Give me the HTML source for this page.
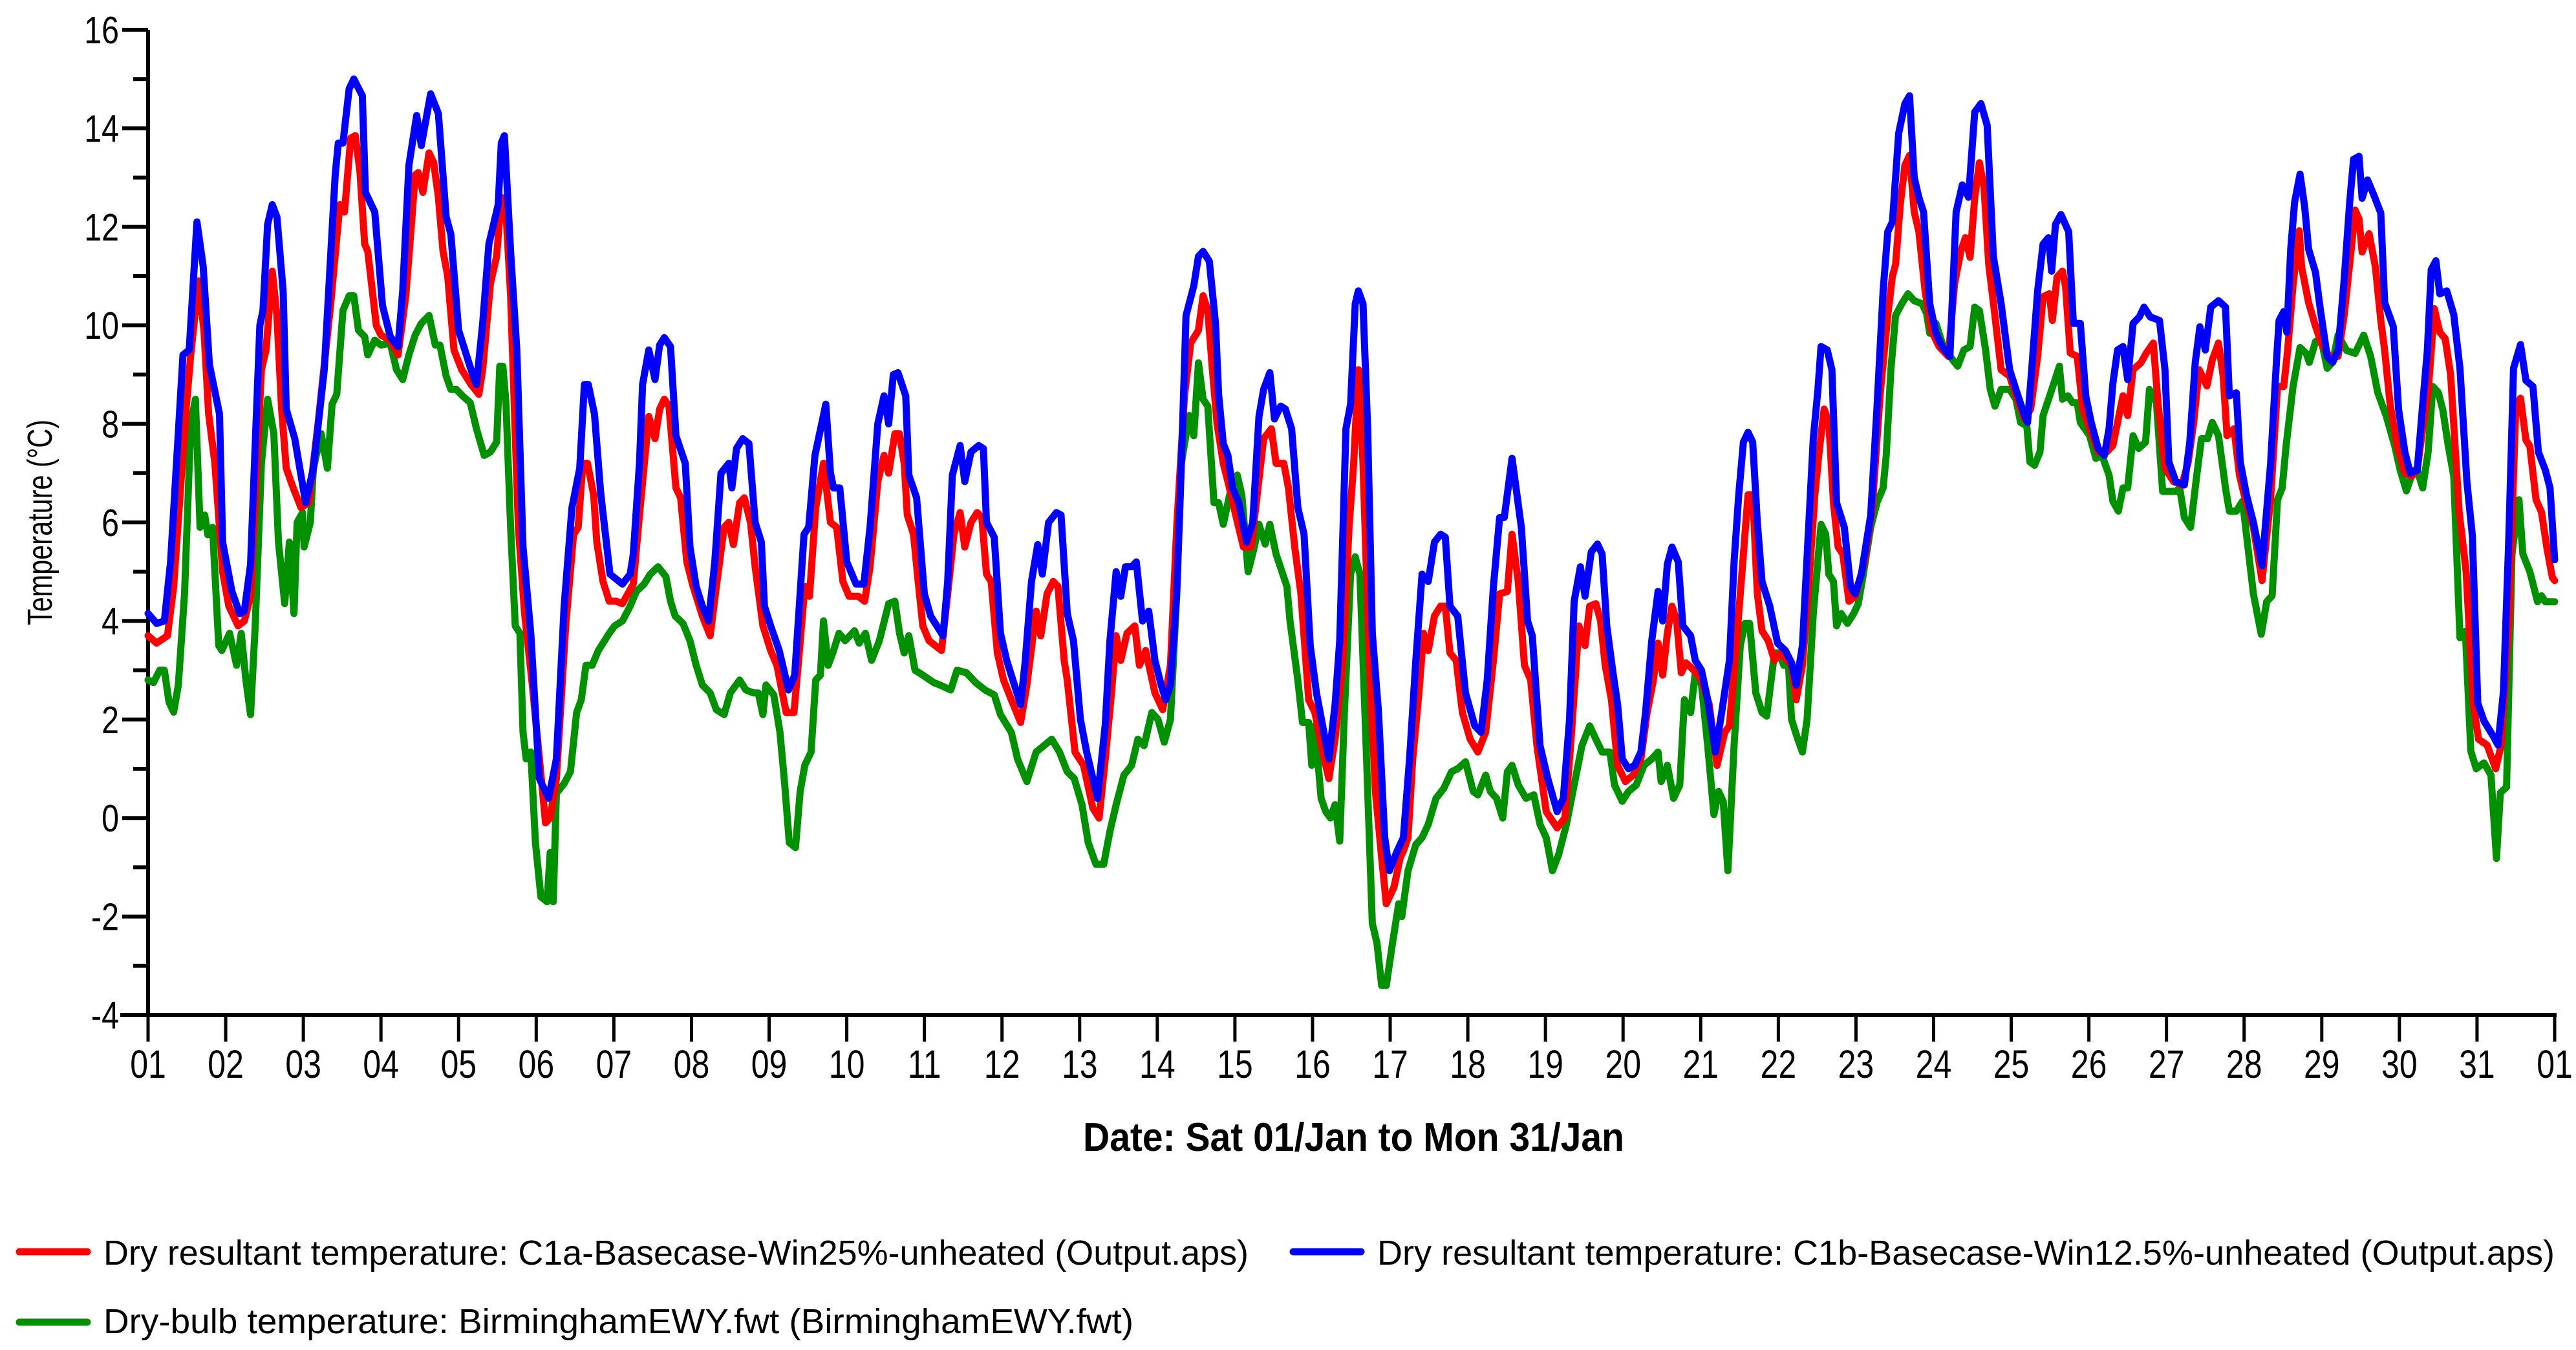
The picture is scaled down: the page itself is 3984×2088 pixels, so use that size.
<!DOCTYPE html>
<html><head><meta charset="utf-8"><style>
html,body{margin:0;padding:0;background:#fff;}
svg{display:block;font-family:"Liberation Sans",Arial,sans-serif;}
</style></head><body>
<svg id="chart" xmlns="http://www.w3.org/2000/svg" width="3984" height="2088" viewBox="0 0 3984 2088">
<rect x="0" y="0" width="3984" height="2088" fill="#fff"/>
<g id="axes"></g>
<g id="series"></g>
<text transform="translate(80,808) rotate(-90)" text-anchor="middle" font-size="54" textLength="318" lengthAdjust="spacingAndGlyphs">Temperature (°C)</text>
<text x="1675" y="1780" font-size="62" font-weight="bold" textLength="837" lengthAdjust="spacingAndGlyphs">Date: Sat 01/Jan to Mon 31/Jan</text>
<g>
<g>
<line x1="30" y1="1936" x2="135" y2="1936" stroke="#ff0000" stroke-width="11" stroke-linecap="round"/>
<text x="160" y="1956" font-size="54" textLength="1771" lengthAdjust="spacingAndGlyphs">Dry resultant temperature: C1a-Basecase-Win25%-unheated (Output.aps)</text>
</g>
<g>
<line x1="2000" y1="1936" x2="2105" y2="1936" stroke="#0000ff" stroke-width="11" stroke-linecap="round"/>
<text x="2130" y="1956" font-size="54" textLength="1821" lengthAdjust="spacingAndGlyphs">Dry resultant temperature: C1b-Basecase-Win12.5%-unheated (Output.aps)</text>
</g>
<g>
<line x1="30" y1="2045" x2="135" y2="2045" stroke="#009000" stroke-width="11" stroke-linecap="round"/>
<text x="160" y="2062" font-size="54" textLength="1593" lengthAdjust="spacingAndGlyphs">Dry-bulb temperature: BirminghamEWY.fwt (BirminghamEWY.fwt)</text>
</g>
</g>
</svg>
<script>
const dayLabels = ["01","02","03","04","05","06","07","08","09","10","11","12","13","14","15","16","17","18","19","20","21","22","23","24","25","26","27","28","29","30","31","01"];
const yTicks = [16,14,12,10,8,6,4,2,0,-2,-4];
const yMinorTicks = [15,13,11,9,7,5,3,1,-1,-3];
const blueSeries = [[1.0,4.15],[1.11,3.95],[1.21,4.0],[1.29,5.2],[1.45,9.4],[1.53,9.5],[1.63,12.1],[1.71,11.2],[1.79,9.2],[1.92,8.2],[1.96,5.6],[2.08,4.6],[2.18,4.15],[2.24,4.2],[2.32,5.15],[2.44,10.0],[2.48,10.3],[2.54,12.05],[2.6,12.45],[2.66,12.2],[2.74,10.7],[2.78,8.3],[2.89,7.7],[3.03,6.4],[3.13,7.1],[3.27,9.1],[3.41,13.05],[3.45,13.7],[3.51,13.7],[3.59,14.8],[3.65,15.0],[3.76,14.66],[3.8,12.7],[3.92,12.3],[4.02,10.4],[4.12,9.77],[4.22,9.57],[4.28,10.7],[4.36,13.25],[4.46,14.26],[4.52,13.65],[4.64,14.7],[4.74,14.3],[4.84,12.2],[4.9,11.85],[5.0,9.9],[5.16,9.1],[5.23,8.8],[5.31,10.04],[5.39,11.65],[5.51,12.45],[5.55,13.7],[5.59,13.85],[5.67,11.5],[5.75,9.5],[5.83,5.5],[5.93,3.75],[6.04,0.8],[6.16,0.4],[6.26,1.2],[6.36,4.3],[6.46,6.3],[6.56,7.1],[6.62,8.8],[6.67,8.8],[6.75,8.2],[6.83,6.6],[6.95,4.95],[7.11,4.75],[7.21,4.95],[7.25,5.35],[7.33,7.2],[7.37,8.8],[7.45,9.5],[7.53,8.9],[7.59,9.6],[7.65,9.75],[7.73,9.57],[7.8,7.76],[7.92,7.2],[7.98,5.5],[8.06,4.7],[8.14,4.3],[8.22,4.0],[8.3,5.2],[8.38,7.0],[8.48,7.2],[8.52,6.7],[8.58,7.5],[8.66,7.7],[8.74,7.6],[8.82,6.0],[8.9,5.6],[8.94,4.3],[9.02,3.9],[9.13,3.4],[9.25,2.6],[9.33,2.9],[9.45,5.76],[9.51,5.9],[9.59,7.36],[9.73,8.4],[9.79,7.0],[9.83,6.7],[9.91,6.7],[10.0,5.2],[10.12,4.75],[10.22,4.75],[10.3,5.9],[10.4,8.0],[10.48,8.57],[10.54,8.0],[10.6,9.0],[10.66,9.04],[10.76,8.57],[10.8,6.96],[10.9,6.5],[11.0,4.55],[11.08,4.1],[11.24,3.7],[11.3,4.8],[11.36,6.96],[11.46,7.56],[11.52,6.83],[11.6,7.43],[11.7,7.56],[11.76,7.5],[11.8,6.0],[11.9,5.7],[11.98,3.75],[12.06,3.2],[12.14,2.8],[12.24,2.3],[12.3,3.2],[12.38,4.8],[12.46,5.55],[12.52,4.95],[12.6,6.0],[12.7,6.2],[12.76,6.15],[12.84,4.15],[12.92,3.6],[13.01,2.0],[13.09,1.34],[13.23,0.4],[13.33,1.9],[13.39,3.6],[13.47,5.0],[13.53,4.5],[13.59,5.1],[13.67,5.1],[13.73,5.2],[13.81,4.0],[13.89,4.2],[13.97,3.2],[14.05,2.7],[14.11,2.4],[14.17,2.7],[14.25,4.55],[14.31,7.2],[14.37,10.2],[14.47,10.8],[14.53,11.4],[14.59,11.5],[14.67,11.3],[14.75,10.04],[14.79,8.6],[14.85,7.6],[14.91,7.36],[14.97,6.7],[15.05,6.4],[15.15,5.6],[15.23,6.0],[15.31,8.15],[15.37,8.7],[15.45,9.04],[15.51,8.1],[15.59,8.36],[15.65,8.3],[15.73,7.9],[15.81,6.3],[15.89,5.76],[15.97,3.5],[16.05,2.54],[16.13,1.87],[16.21,1.2],[16.29,2.3],[16.35,3.6],[16.43,7.9],[16.49,8.4],[16.55,10.44],[16.59,10.7],[16.65,10.44],[16.71,7.9],[16.77,3.75],[16.85,2.14],[16.93,-0.4],[16.99,-1.07],[17.09,-0.67],[17.17,-0.4],[17.25,1.2],[17.33,3.2],[17.41,4.95],[17.49,4.8],[17.57,5.6],[17.65,5.76],[17.71,5.7],[17.77,4.3],[17.87,4.1],[17.97,2.54],[18.09,1.87],[18.17,1.74],[18.25,2.8],[18.33,4.7],[18.41,6.1],[18.47,6.1],[18.57,7.3],[18.69,5.9],[18.77,4.0],[18.83,3.7],[18.93,1.47],[19.03,0.8],[19.15,0.13],[19.23,0.4],[19.31,2.0],[19.37,4.4],[19.45,5.1],[19.51,4.5],[19.59,5.4],[19.67,5.56],[19.73,5.36],[19.79,3.9],[19.87,2.95],[19.93,2.3],[19.99,1.2],[20.07,1.0],[20.15,1.07],[20.23,1.34],[20.29,2.14],[20.37,3.6],[20.45,4.6],[20.51,4.0],[20.57,5.15],[20.63,5.5],[20.71,5.2],[20.77,3.9],[20.87,3.7],[20.93,3.2],[21.01,3.0],[21.09,2.4],[21.19,1.34],[21.27,2.14],[21.37,3.2],[21.43,5.2],[21.49,6.56],[21.55,7.63],[21.61,7.83],[21.67,7.63],[21.73,6.0],[21.79,4.8],[21.89,4.3],[21.99,3.55],[22.09,3.4],[22.17,3.15],[22.23,2.7],[22.31,3.5],[22.39,5.9],[22.45,7.7],[22.51,8.7],[22.55,9.57],[22.63,9.5],[22.69,9.1],[22.75,6.4],[22.85,5.9],[22.93,4.7],[22.99,4.55],[23.07,4.95],[23.19,6.15],[23.27,8.3],[23.35,10.7],[23.41,11.9],[23.47,12.1],[23.55,13.9],[23.63,14.5],[23.69,14.66],[23.75,13.0],[23.81,12.6],[23.87,12.3],[23.95,10.44],[24.03,9.84],[24.11,9.57],[24.21,9.37],[24.29,12.3],[24.37,12.85],[24.45,12.6],[24.53,14.33],[24.61,14.5],[24.69,14.06],[24.77,11.4],[24.87,10.44],[24.98,9.1],[25.06,8.7],[25.17,8.17],[25.21,8.03],[25.27,9.24],[25.34,10.7],[25.41,11.65],[25.48,11.78],[25.52,11.1],[25.57,12.05],[25.64,12.25],[25.74,11.9],[25.8,10.04],[25.89,10.04],[25.96,8.57],[26.03,8.03],[26.12,7.5],[26.2,7.36],[26.26,7.9],[26.31,8.83],[26.37,9.5],[26.44,9.57],[26.5,8.9],[26.57,10.04],[26.65,10.17],[26.71,10.37],[26.79,10.17],[26.91,10.1],[26.98,9.1],[27.03,7.23],[27.12,6.83],[27.23,6.76],[27.3,7.63],[27.37,9.24],[27.43,9.97],[27.5,9.5],[27.57,10.37],[27.67,10.5],[27.76,10.37],[27.81,8.57],[27.9,8.63],[27.95,7.23],[28.03,6.56],[28.12,6.0],[28.23,5.12],[28.34,7.18],[28.42,9.37],[28.45,10.1],[28.51,10.28],[28.55,9.86],[28.6,11.55],[28.65,12.5],[28.72,13.07],[28.78,12.4],[28.83,11.55],[28.92,11.07],[28.98,10.34],[29.07,9.37],[29.14,9.25],[29.21,9.49],[29.29,10.95],[29.36,12.5],[29.41,13.37],[29.48,13.43],[29.52,12.58],[29.59,12.95],[29.67,12.65],[29.76,12.28],[29.81,10.46],[29.92,9.98],[29.99,8.28],[30.07,7.43],[30.14,7.0],[30.23,7.06],[30.3,8.4],[30.36,9.49],[30.41,11.13],[30.47,11.31],[30.52,10.64],[30.61,10.7],[30.7,10.22],[30.78,9.13],[30.87,6.82],[30.94,5.73],[31.01,2.33],[31.09,1.97],[31.21,1.66],[31.27,1.48],[31.34,2.57],[31.41,5.73],[31.47,9.13],[31.56,9.61],[31.63,8.88],[31.72,8.76],[31.79,7.43],[31.88,7.06],[31.94,6.7],[32.0,5.24]];
const redSeries = [[1.0,3.7],[1.11,3.55],[1.25,3.7],[1.33,4.7],[1.49,8.3],[1.55,9.4],[1.65,10.9],[1.72,9.9],[1.78,8.2],[1.86,7.2],[1.96,5.0],[2.04,4.3],[2.16,3.9],[2.24,4.0],[2.32,4.5],[2.46,9.1],[2.52,9.5],[2.6,11.1],[2.66,10.2],[2.72,8.3],[2.78,7.1],[2.87,6.7],[2.97,6.3],[3.07,6.4],[3.19,8.0],[3.35,10.4],[3.47,12.45],[3.53,12.3],[3.61,13.8],[3.67,13.85],[3.73,13.1],[3.79,11.65],[3.83,11.5],[3.94,10.0],[4.0,9.8],[4.12,9.7],[4.22,9.4],[4.32,10.6],[4.4,12.2],[4.44,13.05],[4.48,13.1],[4.54,12.7],[4.62,13.5],[4.68,13.3],[4.74,12.6],[4.8,11.5],[4.86,11.0],[4.94,9.5],[5.04,9.1],[5.16,8.8],[5.26,8.6],[5.31,9.1],[5.41,10.85],[5.49,11.4],[5.55,12.6],[5.61,12.3],[5.67,10.6],[5.77,5.9],[5.85,4.15],[5.95,2.7],[6.06,0.9],[6.12,-0.1],[6.18,0.0],[6.26,0.8],[6.38,3.9],[6.48,5.75],[6.54,5.9],[6.6,7.2],[6.66,7.2],[6.74,6.55],[6.78,5.6],[6.86,4.8],[6.94,4.4],[7.03,4.4],[7.11,4.35],[7.25,4.75],[7.33,6.15],[7.45,8.15],[7.53,7.7],[7.59,8.3],[7.65,8.5],[7.71,8.36],[7.8,6.7],[7.86,6.5],[7.94,5.2],[8.02,4.7],[8.14,4.1],[8.24,3.7],[8.32,4.7],[8.42,5.9],[8.48,6.0],[8.54,5.55],[8.62,6.4],[8.68,6.5],[8.76,6.0],[8.82,5.1],[8.92,3.9],[9.02,3.4],[9.1,3.1],[9.22,2.14],[9.32,2.14],[9.38,3.2],[9.46,4.7],[9.52,4.5],[9.6,6.3],[9.7,7.2],[9.79,6.0],[9.87,5.9],[9.95,4.8],[10.03,4.5],[10.15,4.5],[10.23,4.4],[10.3,5.1],[10.4,6.83],[10.48,7.36],[10.54,7.0],[10.62,7.8],[10.68,7.8],[10.74,7.2],[10.78,6.15],[10.86,5.76],[10.92,4.8],[10.98,3.9],[11.06,3.6],[11.22,3.4],[11.3,4.55],[11.38,5.76],[11.46,6.2],[11.52,5.5],[11.6,6.0],[11.68,6.2],[11.74,6.1],[11.8,4.95],[11.86,4.8],[11.94,3.35],[12.02,2.8],[12.12,2.4],[12.24,1.94],[12.32,2.7],[12.44,4.2],[12.5,3.7],[12.58,4.55],[12.66,4.8],[12.72,4.7],[12.8,3.2],[12.84,2.8],[12.94,1.34],[13.05,1.07],[13.17,0.2],[13.25,0.0],[13.33,1.2],[13.41,2.54],[13.47,3.7],[13.53,3.2],[13.61,3.75],[13.71,3.9],[13.77,3.1],[13.85,3.4],[13.97,2.54],[14.07,2.2],[14.17,3.1],[14.25,5.9],[14.35,8.57],[14.43,9.64],[14.53,9.9],[14.59,10.6],[14.65,10.3],[14.71,9.1],[14.77,8.0],[14.85,7.2],[14.93,6.7],[15.01,6.15],[15.11,5.5],[15.21,5.5],[15.29,6.6],[15.37,7.7],[15.47,7.9],[15.53,7.2],[15.63,7.2],[15.69,6.7],[15.77,5.5],[15.85,4.55],[15.95,2.4],[16.03,2.14],[16.13,1.34],[16.21,0.8],[16.29,1.6],[16.39,3.2],[16.47,5.9],[16.53,7.2],[16.59,9.1],[16.65,7.2],[16.73,3.2],[16.81,0.54],[16.89,-0.8],[16.95,-1.74],[17.05,-1.4],[17.13,-0.8],[17.17,-0.67],[17.23,-0.4],[17.29,1.2],[17.37,2.54],[17.43,3.75],[17.49,3.4],[17.57,4.1],[17.65,4.3],[17.71,4.3],[17.77,3.35],[17.85,3.2],[17.93,2.14],[18.03,1.6],[18.13,1.34],[18.23,1.74],[18.33,3.2],[18.41,4.55],[18.51,4.6],[18.57,5.76],[18.65,4.8],[18.73,3.1],[18.81,2.8],[18.89,1.47],[19.01,0.13],[19.15,-0.2],[19.25,0.0],[19.33,1.6],[19.43,3.9],[19.51,3.5],[19.57,4.3],[19.65,4.35],[19.71,4.0],[19.77,3.1],[19.85,2.4],[19.93,1.07],[20.03,0.74],[20.13,0.87],[20.23,1.2],[20.31,2.14],[20.39,2.8],[20.45,3.55],[20.51,2.9],[20.57,3.75],[20.63,4.3],[20.69,4.0],[20.75,2.95],[20.81,3.15],[20.91,3.0],[21.01,2.8],[21.11,2.3],[21.21,1.07],[21.31,1.74],[21.37,1.87],[21.47,3.75],[21.53,4.95],[21.61,6.56],[21.67,6.56],[21.73,4.55],[21.79,3.8],[21.87,3.6],[21.95,3.2],[22.03,3.35],[22.11,3.2],[22.17,3.1],[22.23,2.4],[22.31,3.1],[22.39,4.7],[22.47,6.56],[22.53,7.5],[22.59,8.3],[22.65,8.03],[22.71,6.4],[22.77,5.5],[22.83,5.36],[22.91,4.4],[22.99,4.5],[23.11,5.2],[23.21,6.3],[23.31,8.57],[23.41,10.2],[23.47,11.0],[23.51,11.24],[23.57,12.45],[23.63,13.25],[23.69,13.45],[23.75,12.3],[23.81,11.9],[23.89,10.7],[23.97,9.9],[24.07,9.57],[24.19,9.37],[24.27,10.84],[24.35,11.5],[24.41,11.78],[24.47,11.38],[24.53,12.6],[24.59,13.3],[24.65,12.8],[24.71,11.24],[24.79,10.2],[24.87,9.1],[24.98,8.97],[25.06,8.57],[25.17,8.1],[25.25,8.3],[25.34,9.37],[25.41,10.58],[25.49,10.64],[25.53,10.1],[25.59,10.98],[25.66,11.1],[25.7,10.78],[25.76,9.44],[25.85,9.37],[25.92,8.3],[26.01,7.9],[26.12,7.43],[26.23,7.43],[26.31,7.56],[26.37,8.03],[26.44,8.57],[26.5,8.17],[26.57,9.1],[26.67,9.24],[26.74,9.44],[26.83,9.64],[26.89,8.43],[26.98,7.1],[27.09,6.83],[27.2,6.76],[27.28,7.23],[27.35,8.03],[27.42,9.1],[27.52,8.77],[27.59,9.3],[27.67,9.64],[27.73,8.97],[27.78,7.76],[27.87,7.9],[27.94,6.96],[28.02,6.43],[28.12,5.9],[28.23,4.82],[28.34,6.46],[28.43,8.76],[28.51,8.76],[28.56,9.49],[28.63,10.82],[28.71,11.92],[28.74,11.19],[28.83,10.46],[28.92,9.98],[29.0,9.61],[29.1,9.37],[29.21,9.37],[29.29,10.22],[29.38,11.55],[29.43,12.34],[29.48,12.16],[29.52,11.49],[29.61,11.86],[29.69,11.19],[29.76,10.1],[29.81,9.49],[29.88,8.4],[29.97,7.55],[30.07,7.0],[30.16,6.94],[30.23,7.06],[30.3,7.91],[30.37,8.64],[30.45,10.34],[30.52,9.86],[30.59,9.73],[30.66,9.0],[30.77,6.21],[30.86,5.0],[30.95,2.33],[31.02,1.6],[31.13,1.48],[31.24,1.0],[31.31,1.48],[31.41,4.03],[31.5,8.4],[31.56,8.52],[31.63,7.67],[31.68,7.55],[31.76,6.46],[31.83,6.21],[31.9,5.48],[31.97,4.88],[32.0,4.82]];
const greenSeries = [[1.0,2.8],[1.07,2.75],[1.15,3.0],[1.21,3.0],[1.27,2.35],[1.33,2.15],[1.39,2.7],[1.47,4.55],[1.55,8.0],[1.61,8.5],[1.67,5.9],[1.73,6.15],[1.77,5.75],[1.83,5.9],[1.91,3.5],[1.95,3.4],[2.05,3.75],[2.14,3.1],[2.2,3.75],[2.26,2.8],[2.32,2.1],[2.38,3.9],[2.46,7.2],[2.54,8.5],[2.62,7.8],[2.68,5.6],[2.76,4.35],[2.82,5.6],[2.88,4.15],[2.92,6.0],[2.99,6.2],[3.01,5.5],[3.09,6.0],[3.13,7.1],[3.23,7.8],[3.31,7.1],[3.37,8.4],[3.43,8.6],[3.51,10.3],[3.59,10.6],[3.65,10.6],[3.71,9.9],[3.79,9.77],[3.83,9.4],[3.92,9.7],[4.0,9.6],[4.12,9.64],[4.2,9.1],[4.28,8.9],[4.36,9.4],[4.44,9.8],[4.52,10.04],[4.62,10.2],[4.7,9.6],[4.76,9.6],[4.84,8.97],[4.9,8.7],[4.97,8.7],[5.05,8.57],[5.15,8.43],[5.23,7.9],[5.33,7.36],[5.41,7.43],[5.49,7.63],[5.53,9.17],[5.57,9.17],[5.61,8.43],[5.67,5.9],[5.73,3.9],[5.79,3.75],[5.83,1.74],[5.87,1.2],[5.93,1.34],[5.99,-0.5],[6.06,-1.6],[6.14,-1.7],[6.18,-0.7],[6.22,-1.7],[6.26,0.5],[6.36,0.7],[6.44,0.94],[6.52,2.14],[6.58,2.4],[6.64,3.1],[6.72,3.1],[6.8,3.4],[6.86,3.55],[6.94,3.75],[7.01,3.9],[7.11,4.0],[7.21,4.3],[7.29,4.6],[7.39,4.75],[7.47,4.95],[7.57,5.1],[7.67,4.9],[7.73,4.4],[7.79,4.1],[7.89,3.95],[7.98,3.6],[8.06,3.1],[8.14,2.7],[8.24,2.54],[8.32,2.2],[8.42,2.1],[8.5,2.54],[8.62,2.8],[8.7,2.6],[8.8,2.54],[8.86,2.54],[8.92,2.1],[8.96,2.7],[9.06,2.5],[9.14,1.74],[9.2,0.7],[9.26,-0.5],[9.34,-0.6],[9.4,0.54],[9.46,1.07],[9.54,1.34],[9.6,2.8],[9.66,2.9],[9.7,4.0],[9.76,3.1],[9.82,3.35],[9.9,3.75],[9.98,3.6],[10.1,3.8],[10.16,3.55],[10.24,3.75],[10.32,3.2],[10.42,3.6],[10.54,4.35],[10.62,4.4],[10.68,3.75],[10.74,3.35],[10.8,3.7],[10.88,3.0],[10.98,2.9],[11.12,2.75],[11.2,2.7],[11.34,2.6],[11.42,3.0],[11.54,2.95],[11.66,2.75],[11.78,2.6],[11.9,2.5],[11.98,2.1],[12.12,1.74],[12.2,1.2],[12.32,0.74],[12.44,1.34],[12.54,1.47],[12.64,1.6],[12.74,1.34],[12.84,0.94],[12.93,0.8],[13.03,0.27],[13.11,-0.5],[13.21,-0.94],[13.31,-0.94],[13.39,-0.27],[13.47,0.27],[13.57,0.87],[13.67,1.07],[13.75,1.6],[13.83,1.47],[13.93,2.14],[14.01,2.0],[14.09,1.54],[14.17,2.0],[14.25,4.55],[14.31,7.2],[14.41,8.17],[14.47,7.76],[14.53,9.24],[14.59,8.5],[14.65,8.36],[14.73,6.4],[14.79,6.4],[14.85,5.96],[14.93,6.55],[15.03,6.96],[15.09,6.55],[15.17,5.0],[15.25,5.5],[15.31,5.96],[15.39,5.56],[15.45,5.96],[15.53,5.36],[15.67,4.7],[15.71,4.0],[15.81,2.8],[15.87,1.94],[15.95,1.94],[15.99,1.07],[16.03,1.87],[16.11,0.4],[16.17,0.13],[16.23,0.0],[16.29,0.27],[16.35,-0.47],[16.41,2.14],[16.49,4.95],[16.55,5.3],[16.61,4.95],[16.69,1.47],[16.77,-2.14],[16.83,-2.54],[16.89,-3.4],[16.95,-3.4],[17.03,-2.54],[17.11,-1.74],[17.15,-2.0],[17.23,-1.07],[17.33,-0.54],[17.41,-0.4],[17.49,-0.13],[17.59,0.4],[17.69,0.6],[17.79,0.94],[17.87,1.0],[17.97,1.14],[18.07,0.54],[18.13,0.47],[18.23,0.87],[18.29,0.54],[18.37,0.4],[18.45,0.0],[18.51,0.94],[18.57,1.07],[18.65,0.67],[18.75,0.4],[18.85,0.47],[18.93,-0.13],[19.01,-0.4],[19.09,-1.07],[19.17,-0.74],[19.27,-0.13],[19.37,0.67],[19.47,1.47],[19.57,1.87],[19.65,1.6],[19.73,1.34],[19.83,1.34],[19.89,0.67],[19.99,0.34],[20.07,0.54],[20.17,0.67],[20.27,1.07],[20.37,1.2],[20.45,1.34],[20.49,0.74],[20.57,1.07],[20.65,0.4],[20.73,0.67],[20.79,2.4],[20.87,2.14],[20.93,2.95],[21.01,2.7],[21.09,1.47],[21.17,0.07],[21.23,0.54],[21.29,0.34],[21.35,-1.07],[21.43,1.47],[21.51,3.5],[21.57,3.95],[21.63,3.95],[21.71,2.54],[21.79,2.14],[21.85,2.07],[21.95,3.35],[22.01,3.35],[22.07,3.1],[22.13,3.1],[22.17,2.0],[22.25,1.6],[22.31,1.34],[22.37,2.0],[22.45,4.15],[22.55,5.96],[22.61,5.76],[22.65,4.95],[22.71,4.8],[22.75,3.9],[22.81,4.15],[22.89,3.95],[22.97,4.15],[23.03,4.35],[23.09,4.9],[23.19,5.9],[23.27,6.4],[23.35,6.7],[23.39,7.36],[23.45,9.1],[23.51,10.2],[23.59,10.44],[23.67,10.64],[23.75,10.5],[23.85,10.44],[23.91,10.24],[23.95,9.84],[24.03,10.04],[24.11,9.64],[24.21,9.37],[24.31,9.17],[24.39,9.5],[24.47,9.57],[24.53,10.37],[24.59,10.3],[24.67,9.5],[24.73,8.7],[24.79,8.36],[24.87,8.7],[24.98,8.7],[25.06,8.5],[25.12,8.03],[25.2,7.96],[25.24,7.23],[25.3,7.16],[25.37,7.43],[25.41,8.17],[25.48,8.5],[25.55,8.83],[25.62,9.17],[25.66,8.5],[25.73,8.57],[25.79,8.43],[25.85,8.43],[25.89,8.03],[26.01,7.76],[26.09,7.3],[26.17,7.36],[26.26,6.96],[26.31,6.43],[26.38,6.23],[26.44,6.7],[26.5,6.7],[26.57,7.76],[26.64,7.5],[26.73,7.63],[26.78,8.7],[26.87,8.43],[26.95,6.63],[27.01,6.63],[27.12,6.63],[27.17,6.7],[27.23,6.1],[27.31,5.9],[27.39,6.96],[27.45,7.7],[27.53,7.7],[27.59,8.03],[27.67,7.76],[27.76,6.7],[27.81,6.23],[27.9,6.23],[27.98,6.43],[28.03,5.76],[28.12,4.55],[28.22,3.73],[28.29,4.39],[28.36,4.51],[28.43,6.46],[28.49,6.7],[28.54,7.55],[28.63,8.76],[28.72,9.55],[28.8,9.43],[28.84,9.25],[28.92,9.67],[28.99,9.73],[29.07,9.13],[29.14,9.25],[29.21,9.8],[29.32,9.49],[29.43,9.43],[29.54,9.8],[29.63,9.37],[29.72,8.64],[29.83,8.16],[29.94,7.55],[30.01,7.06],[30.09,6.64],[30.18,7.06],[30.23,7.06],[30.3,6.7],[30.37,7.43],[30.43,8.76],[30.5,8.64],[30.56,8.28],[30.63,7.55],[30.7,6.94],[30.78,3.66],[30.85,3.79],[30.92,1.36],[30.99,1.0],[31.09,1.12],[31.18,0.87],[31.25,-0.82],[31.3,0.51],[31.38,0.63],[31.45,5.36],[31.54,6.46],[31.59,5.36],[31.68,5.0],[31.78,4.39],[31.83,4.51],[31.88,4.39],[32.0,4.39]];

const NS = "http://www.w3.org/2000/svg";
const X0 = 229, X1 = 3951, Y0 = 46, Y1 = 1570, DAY0 = 1, DAY1 = 32, TMAX = 16, TMIN = -4;
function xScale(d){ return X0 + (d - DAY0) / (DAY1 - DAY0) * (X1 - X0); }
function yScale(t){ return Y0 + (TMAX - t) / (TMAX - TMIN) * (Y1 - Y0); }
function mk(tag, attrs, parent){ const e = document.createElementNS(NS, tag); for (const k in attrs) e.setAttribute(k, attrs[k]); parent.appendChild(e); return e; }

const axes = document.getElementById('axes');
const yAxis = mk('line', {x1:X0, y1:Y0, x2:X0, y2:Y1, stroke:'#000', 'stroke-width':6}, axes);


const xAxis = mk('line', {x1:186, y1:Y1, x2:X1+3, y2:Y1, stroke:'#000', 'stroke-width':6}, axes);



yTicks.forEach(function(t){
  const y = yScale(t);
  const tk = mk('line', {x1:189, y1:y, x2:X0, y2:y, stroke:'#000', 'stroke-width':6}, axes);
  
  
  const lb = mk('text', {transform:'translate(184,' + (y + 21) + ') scale(0.82,1)', 'text-anchor':'end', 'font-size':59}, axes);
  lb.textContent = String(t);
  
  
});
yMinorTicks.forEach(function(t){
  const y = yScale(t);
  const tk = mk('line', {x1:206, y1:y, x2:X0, y2:y, stroke:'#000', 'stroke-width':6}, axes);
  
  
});
dayLabels.forEach(function(lab, i){
  const x = xScale(DAY0 + i);
  const tk = mk('line', {x1:x, y1:Y1, x2:x, y2:1611, stroke:'#000', 'stroke-width':5}, axes);
  
  
  const lb = mk('text', {transform:'translate(' + x + ',1667) scale(0.82,1)', 'text-anchor':'middle', 'font-size':61}, axes);
  lb.textContent = lab;
  
  
});

const seriesG = document.getElementById('series');
function drawSeries(data, color, name){
  const d = data.map(function(p, i){ return (i ? 'L' : 'M') + xScale(p[0]).toFixed(1) + ' ' + yScale(p[1]).toFixed(1); }).join(' ');
  const path = mk('path', {d:d, fill:'none', stroke:color, 'stroke-width':11, 'stroke-linejoin':'round', 'stroke-linecap':'round'}, seriesG);
  
  
}
drawSeries(greenSeries, '#009000', 'dry-bulb-line');
drawSeries(redSeries, '#ff0000', 'c1a-resultant-line');
drawSeries(blueSeries, '#0000ff', 'c1b-resultant-line');
</script>
</body></html>
